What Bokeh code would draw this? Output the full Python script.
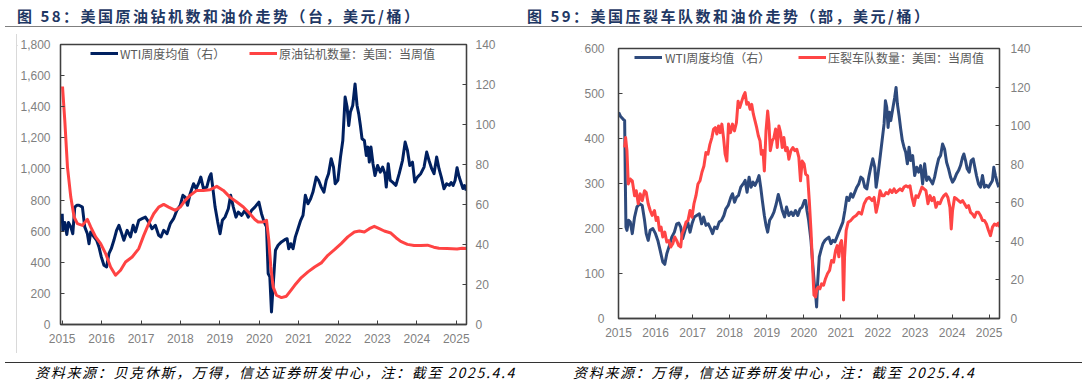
from bokeh.plotting import figure
from bokeh.models import (Range1d, LinearAxis, FixedTicker, NumeralTickFormatter,
                          Legend, LegendItem, Div, Spacer)
from bokeh.layouts import row, column
from bokeh.embed import file_html
from bokeh.resources import INLINE

# ---------------- data ----------------
years = [2015, 2016, 2017, 2018, 2019, 2020, 2021, 2022, 2023, 2024, 2025]
rig_ticks = [0, 200, 400, 600, 800, 1000, 1200, 1400, 1600, 1800]
frac_ticks = [0, 100, 200, 300, 400, 500, 600]
wti_ticks = [0, 20, 40, 60, 80, 100, 120, 140]

# Chart 58: WTI weekly average (right axis)
wti58_x = [2015.000, 2015.016, 2015.066, 2015.117, 2015.159, 2015.218, 2015.269, 2015.319, 2015.370, 2015.428,
           2015.513, 2015.572, 2015.639, 2015.681, 2015.723, 2015.807, 2015.874, 2015.933, 2015.992, 2016.060,
           2016.127, 2016.186, 2016.245, 2016.312, 2016.380, 2016.439, 2016.497, 2016.565, 2016.649, 2016.733,
           2016.800, 2016.859, 2016.943, 2017.027, 2017.111, 2017.195, 2017.280, 2017.364, 2017.448, 2017.507,
           2017.575, 2017.659, 2017.743, 2017.827, 2017.911, 2017.995, 2018.063, 2018.120, 2018.180, 2018.248,
           2018.333, 2018.400, 2018.459, 2018.518, 2018.585, 2018.669, 2018.736, 2018.778, 2018.820, 2018.880,
           2018.947, 2019.006, 2019.065, 2019.132, 2019.216, 2019.275, 2019.343, 2019.410, 2019.469, 2019.553,
           2019.637, 2019.721, 2019.805, 2019.890, 2019.991, 2020.058, 2020.126, 2020.185, 2020.227, 2020.269,
           2020.311, 2020.362, 2020.412, 2020.479, 2020.564, 2020.648, 2020.707, 2020.749, 2020.799, 2020.858,
           2020.917, 2020.984, 2021.052, 2021.111, 2021.170, 2021.237, 2021.304, 2021.363, 2021.447, 2021.506,
           2021.574, 2021.641, 2021.700, 2021.759, 2021.826, 2021.885, 2021.927, 2021.995, 2022.062, 2022.121,
           2022.180, 2022.230, 2022.272, 2022.314, 2022.373, 2022.432, 2022.483, 2022.525, 2022.567, 2022.609,
           2022.668, 2022.718, 2022.760, 2022.794, 2022.836, 2022.887, 2022.937, 2023.005, 2023.072, 2023.131,
           2023.190, 2023.224, 2023.274, 2023.324, 2023.383, 2023.468, 2023.552, 2023.636, 2023.703, 2023.762,
           2023.821, 2023.889, 2023.947, 2024.015, 2024.099, 2024.183, 2024.250, 2024.309, 2024.377, 2024.436,
           2024.503, 2024.562, 2024.621, 2024.688, 2024.755, 2024.823, 2024.870, 2024.920, 2024.970, 2025.020,
           2025.070, 2025.120, 2025.170, 2025.210, 2025.255]
wti58_y = [55.4, 47.0, 51.0, 45.0, 51.0, 48.8, 45.4, 58.7, 59.6, 59.6,
           58.7, 48.8, 45.4, 40.4, 46.3, 43.8, 42.1, 38.8, 33.8, 29.6,
           28.8, 35.4, 37.9, 42.1, 47.1, 49.6, 46.3, 42.1, 47.1, 43.8,
           49.6, 46.3, 52.1, 52.9, 53.7, 51.2, 47.9, 49.6, 44.6, 43.8,
           47.1, 45.4, 50.4, 52.9, 57.1, 59.6, 64.6, 63.7, 59.6, 65.4,
           70.4, 67.9, 70.4, 73.7, 67.9, 68.7, 73.7, 75.4, 68.7, 58.7,
           51.2, 45.4, 52.1, 53.7, 57.9, 64.6, 58.7, 53.7, 56.2, 54.6,
           57.1, 53.7, 57.1, 58.7, 61.2, 55.4, 51.2, 48.8, 25.5, 23.8,
           6.3, 22.1, 37.1, 39.6, 41.3, 42.4, 42.9, 37.9, 40.4, 37.9,
           43.8, 47.9, 52.1, 54.6, 64.6, 60.4, 62.9, 66.2, 73.7, 72.1,
           68.7, 66.2, 72.1, 75.4, 82.9, 78.7, 70.4, 72.1, 83.7, 92.0,
           113.7, 108.7, 99.5, 106.2, 109.5, 120.3, 109.5, 105.3, 99.5, 92.9,
           92.0, 84.5, 88.7, 81.2, 88.7, 80.4, 74.5, 79.5, 76.2, 78.7,
           75.4, 68.7, 80.4, 72.1, 71.2, 69.6, 75.4, 82.0, 91.2, 87.0,
           79.5, 81.2, 71.2, 73.7, 75.4, 78.7, 86.2, 82.0, 77.9, 75.4,
           83.7, 77.9, 73.7, 67.9, 70.4, 69.6, 71.0, 69.5, 72.0, 78.4,
           74.0, 71.0, 68.0, 69.5, 67.0]

# Chart 58: US crude oil rig count (left axis)
rig58_x = [2015.008, 2015.066, 2015.134, 2015.218, 2015.302, 2015.386, 2015.513, 2015.639, 2015.723, 2015.849,
           2015.976, 2016.102, 2016.228, 2016.354, 2016.481, 2016.607, 2016.775, 2016.944, 2017.070, 2017.196,
           2017.322, 2017.449, 2017.575, 2017.701, 2017.870, 2017.996, 2018.122, 2018.248, 2018.416, 2018.585,
           2018.753, 2018.922, 2019.090, 2019.256, 2019.430, 2019.597, 2019.764, 2019.890, 2019.974, 2020.100,
           2020.185, 2020.244, 2020.294, 2020.353, 2020.437, 2020.564, 2020.690, 2020.774, 2020.900, 2021.069,
           2021.237, 2021.405, 2021.574, 2021.742, 2021.910, 2022.079, 2022.247, 2022.415, 2022.542, 2022.668,
           2022.794, 2022.920, 2023.047, 2023.173, 2023.341, 2023.470, 2023.590, 2023.760, 2023.930, 2024.100,
           2024.270, 2024.430, 2024.560, 2024.770, 2025.020, 2025.150, 2025.255]
rig58_y = [1530, 1311, 1012, 819, 691, 648, 637, 676, 627, 563,
           520, 456, 370, 317, 349, 402, 434, 488, 573, 648,
           712, 755, 772, 755, 734, 755, 798, 830, 862, 862,
           866, 888, 862, 819, 787, 755, 712, 675, 659, 659,
           670, 541, 370, 242, 188, 173, 182, 210, 252, 302,
           338, 370, 396, 445, 481, 520, 563, 595, 601, 595,
           616, 631, 616, 601, 588, 558, 534, 515, 508, 508,
           510, 497, 490, 488, 485, 490, 488]

# Chart 59: WTI weekly average (right axis)
wti59_x = [2015.004, 2015.058, 2015.121, 2015.166, 2015.184, 2015.201, 2015.228, 2015.273, 2015.318, 2015.372,
           2015.434, 2015.497, 2015.568, 2015.640, 2015.703, 2015.748, 2015.801, 2015.855, 2015.927, 2015.998,
           2016.061, 2016.124, 2016.195, 2016.249, 2016.303, 2016.374, 2016.437, 2016.508, 2016.571, 2016.625,
           2016.679, 2016.732, 2016.795, 2016.867, 2016.930, 2016.983, 2017.046, 2017.109, 2017.181, 2017.243,
           2017.297, 2017.360, 2017.423, 2017.485, 2017.539, 2017.593, 2017.655, 2017.718, 2017.781, 2017.844,
           2017.897, 2017.960, 2018.032, 2018.077, 2018.131, 2018.184, 2018.238, 2018.300, 2018.363, 2018.417,
           2018.469, 2018.523, 2018.577, 2018.631, 2018.684, 2018.747, 2018.792, 2018.837, 2018.881, 2018.935,
           2018.980, 2019.025, 2019.078, 2019.132, 2019.194, 2019.257, 2019.311, 2019.355, 2019.418, 2019.481,
           2019.534, 2019.597, 2019.660, 2019.713, 2019.776, 2019.839, 2019.901, 2019.955, 2020.018, 2020.049,
           2020.085, 2020.130, 2020.193, 2020.247, 2020.283, 2020.318, 2020.345, 2020.372, 2020.417, 2020.462,
           2020.516, 2020.570, 2020.623, 2020.677, 2020.731, 2020.785, 2020.839, 2020.892, 2020.946, 2021.000,
           2021.054, 2021.108, 2021.161, 2021.215, 2021.269, 2021.323, 2021.377, 2021.430, 2021.484, 2021.538,
           2021.592, 2021.646, 2021.700, 2021.753, 2021.807, 2021.861, 2021.915, 2021.951, 2022.004, 2022.058,
           2022.112, 2022.166, 2022.202, 2022.238, 2022.274, 2022.309, 2022.345, 2022.399, 2022.453, 2022.489,
           2022.525, 2022.570, 2022.614, 2022.659, 2022.704, 2022.749, 2022.794, 2022.839, 2022.883, 2022.937,
           2022.991, 2023.045, 2023.099, 2023.152, 2023.206, 2023.260, 2023.314, 2023.368, 2023.422, 2023.475,
           2023.529, 2023.583, 2023.637, 2023.691, 2023.744, 2023.798, 2023.852, 2023.906, 2023.960, 2024.013,
           2024.067, 2024.121, 2024.175, 2024.229, 2024.283, 2024.318, 2024.363, 2024.408, 2024.462, 2024.516,
           2024.570, 2024.605, 2024.659, 2024.713, 2024.767, 2024.821, 2024.874, 2024.928, 2024.982, 2025.036,
           2025.090, 2025.126, 2025.170, 2025.215, 2025.260]
wti59_y = [106.9, 104.7, 103.4, 102.6, 71.6, 47.4, 45.7, 50.9, 50.0, 44.0,
           52.6, 57.8, 59.5, 58.6, 50.9, 44.0, 40.5, 45.7, 46.6, 44.0,
           40.5, 35.3, 29.3, 28.1, 33.6, 37.9, 42.2, 44.8, 49.1, 49.5,
           47.4, 41.4, 45.7, 50.0, 44.8, 49.1, 52.6, 53.4, 54.3, 49.1,
           52.6, 48.3, 49.1, 46.6, 44.0, 47.4, 46.6, 50.0, 50.9, 53.4,
           56.9, 58.6, 62.9, 64.7, 60.3, 62.9, 63.8, 68.1, 69.8, 71.6,
           65.5, 73.3, 68.1, 70.7, 69.0, 71.6, 74.1, 68.1, 61.2, 53.4,
           48.3, 44.8, 50.9, 52.6, 55.2, 59.5, 64.3, 61.2, 56.0, 52.6,
           57.8, 53.4, 55.2, 53.4, 56.0, 53.4, 56.9, 57.8, 61.2, 61.2,
           56.0, 50.9, 40.5, 26.7, 18.1, 12.9, 6.0, 18.1, 31.9, 35.3,
           38.8, 40.5, 41.4, 42.2, 38.8, 40.5, 39.7, 42.2, 44.8, 47.4,
           50.0, 56.0, 62.9, 61.2, 64.7, 62.9, 65.5, 68.1, 69.8, 73.3,
           72.4, 68.1, 67.2, 73.3, 78.4, 82.8, 78.4, 68.1, 75.0, 83.6,
           92.2, 100.9, 112.9, 109.5, 99.1, 106.9, 102.6, 108.6, 114.7, 119.8,
           111.2, 105.2, 98.3, 92.2, 88.8, 86.2, 80.2, 88.8, 81.9, 84.5,
           74.1, 78.4, 75.9, 79.3, 69.8, 80.2, 71.6, 73.3, 71.6, 69.8,
           73.3, 78.4, 82.8, 84.5, 90.5, 87.9, 81.0, 77.6, 73.3, 70.7,
           72.4, 75.0, 76.7, 79.3, 83.6, 85.3, 81.9, 77.6, 75.9, 81.9,
           82.8, 79.3, 74.1, 69.8, 68.1, 74.1, 68.1, 69.0, 68.1, 69.8,
           71.6, 78.4, 74.1, 70.7, 68.1]

# Chart 59: US frac fleet count (left axis)
frac59_x = [2015.166, 2015.192, 2015.228, 2015.264, 2015.318, 2015.372, 2015.434, 2015.479, 2015.533, 2015.586,
            2015.640, 2015.703, 2015.748, 2015.801, 2015.855, 2015.909, 2015.971, 2016.016, 2016.061, 2016.106,
            2016.150, 2016.195, 2016.249, 2016.303, 2016.356, 2016.410, 2016.464, 2016.517, 2016.571, 2016.625,
            2016.679, 2016.714, 2016.768, 2016.822, 2016.876, 2016.929, 2016.983, 2017.036, 2017.090, 2017.144,
            2017.198, 2017.251, 2017.305, 2017.359, 2017.413, 2017.466, 2017.520, 2017.565, 2017.610, 2017.655,
            2017.699, 2017.744, 2017.789, 2017.834, 2017.878, 2017.923, 2017.968, 2018.021, 2018.075, 2018.128,
            2018.182, 2018.227, 2018.272, 2018.326, 2018.370, 2018.415, 2018.460, 2018.505, 2018.550, 2018.594,
            2018.639, 2018.684, 2018.729, 2018.773, 2018.818, 2018.854, 2018.899, 2018.935, 2018.980, 2019.025,
            2019.060, 2019.096, 2019.149, 2019.194, 2019.239, 2019.284, 2019.328, 2019.373, 2019.418, 2019.463,
            2019.508, 2019.552, 2019.597, 2019.651, 2019.705, 2019.758, 2019.812, 2019.866, 2019.911, 2019.955,
            2020.009, 2020.049, 2020.103, 2020.148, 2020.193, 2020.238, 2020.274, 2020.318, 2020.354, 2020.390,
            2020.435, 2020.480, 2020.534, 2020.587, 2020.641, 2020.695, 2020.749, 2020.803, 2020.857, 2020.901,
            2020.946, 2020.982, 2021.018, 2021.045, 2021.072, 2021.099, 2021.143, 2021.197, 2021.269, 2021.341,
            2021.413, 2021.484, 2021.556, 2021.628, 2021.700, 2021.771, 2021.843, 2021.897, 2021.951, 2022.004,
            2022.058, 2022.112, 2022.166, 2022.220, 2022.274, 2022.327, 2022.381, 2022.435, 2022.489, 2022.543,
            2022.596, 2022.650, 2022.704, 2022.758, 2022.812, 2022.865, 2022.919, 2022.973, 2023.027, 2023.081,
            2023.135, 2023.188, 2023.242, 2023.296, 2023.350, 2023.404, 2023.457, 2023.511, 2023.565, 2023.619,
            2023.673, 2023.726, 2023.780, 2023.834, 2023.888, 2023.942, 2023.978, 2024.013, 2024.067, 2024.121,
            2024.175, 2024.229, 2024.283, 2024.336, 2024.390, 2024.444, 2024.498, 2024.552, 2024.605, 2024.659,
            2024.713, 2024.767, 2024.821, 2024.874, 2024.928, 2024.982, 2025.036, 2025.090, 2025.143, 2025.197,
            2025.251, 2025.278]
frac59_y = [380, 402, 373, 299, 310, 306, 273, 284, 255, 277,
            262, 284, 280, 255, 240, 229, 240, 218, 225, 196,
            203, 181, 192, 170, 173, 159, 166, 181, 173, 162,
            159, 188, 199, 214, 218, 240, 225, 255, 273, 299,
            306, 325, 339, 369, 365, 387, 402, 421, 424, 410,
            428, 413, 432, 402, 365, 350, 432, 413, 432, 417,
            435, 483, 469, 483, 494, 502, 476, 480, 465, 476,
            454, 439, 424, 406, 395, 365, 373, 328, 417, 461,
            432, 373, 395, 402, 421, 380, 428, 413, 380, 402,
            373, 380, 354, 373, 380, 373, 376, 358, 306, 350,
            343, 321, 317, 262, 196, 114, 52, 48, 66, 70,
            66, 77, 74, 89, 100, 107, 129, 125, 151, 162,
            137, 166, 173, 144, 41, 137, 196, 214, 218, 225,
            229, 236, 232, 255, 266, 269, 262, 269, 236, 255,
            284, 273, 273, 280, 277, 286, 280, 288, 280, 284,
            288, 284, 292, 295, 292, 295, 269, 251, 273, 269,
            280, 292, 288, 284, 255, 273, 262, 269, 247, 258,
            255, 266, 273, 277, 269, 247, 199, 240, 269, 266,
            262, 258, 262, 255, 247, 251, 236, 232, 225, 236,
            236, 229, 218, 218, 210, 196, 184, 203, 210, 207,
            212, 203]

# ---------------- styling helpers ----------------
CJK = "Noto Sans CJK SC"
NUM = "Liberation Sans"
AXIS_COLOR = "#404040"
LABEL_COLOR = "#7f7f7f"


def style_axis(ax, standoff, ticks):
    ax.ticker = FixedTicker(ticks=ticks)
    ax.major_tick_in = 4
    ax.major_tick_out = 0
    ax.minor_tick_in = 0
    ax.minor_tick_out = 0
    ax.axis_line_color = AXIS_COLOR
    ax.axis_line_width = 1.3
    ax.major_tick_line_color = AXIS_COLOR
    ax.major_tick_line_width = 1
    ax.major_label_text_font = NUM
    ax.major_label_text_font_size = "12px"
    ax.major_label_text_color = LABEL_COLOR
    ax.major_label_standoff = standoff


def add_legend(p, r, label, vx, vy, standoff):
    lg = Legend(items=[LegendItem(label=label, renderers=[r])], location=(vx, vy),
                orientation="horizontal", padding=0, margin=0, spacing=0,
                glyph_width=28, glyph_height=20, label_height=20, label_standoff=standoff,
                border_line_alpha=0, background_fill_alpha=0,
                label_text_font=CJK, label_text_font_size="12px", label_text_color="#595959")
    p.add_layout(lg)


def make_fig(width, height, xr, yr, yr2, bl, br, bt, bb):
    p = figure(width=width, height=height, x_range=xr, y_range=yr,
               output_backend="svg", toolbar_location=None, margin=0,
               min_border_left=bl, min_border_right=br, min_border_top=bt, min_border_bottom=bb)
    p.extra_y_ranges = {"wti": yr2}
    p.xgrid.visible = False
    p.ygrid.visible = False
    p.outline_line_color = AXIS_COLOR
    p.outline_line_width = 1.3
    p.background_fill_color = "white"
    p.border_fill_color = "white"
    return p


# ---------------- chart 58 ----------------
p1 = make_fig(486, 318, Range1d(2014.957, 2025.26), Range1d(0, 1800), Range1d(0, 140), 41, 37, 9, 29)
style_axis(p1.xaxis[0], 9, years)
style_axis(p1.yaxis[0], 10, rig_ticks)
p1.yaxis[0].formatter = NumeralTickFormatter(format="0,0")
ax1r = LinearAxis(y_range_name="wti")
style_axis(ax1r, 9, wti_ticks)
p1.add_layout(ax1r, "right")

r1w = p1.line(wti58_x, wti58_y, y_range_name="wti", line_color="#002060", line_width=3, line_join="round")
r1r = p1.line(rig58_x, rig58_y, line_color="#FF4343", line_width=3, line_join="round")
add_legend(p1, r1w, "WTI周度均值（右）", 30, 261, 2)
add_legend(p1, r1r, "原油钻机数量：美国：当周值", 189, 261, 2)

# ---------------- chart 59 ----------------
p2 = make_fig(455, 307, Range1d(2015.0, 2025.28), Range1d(0, 600), Range1d(0, 140), 36, 37, 7, 30)
style_axis(p2.xaxis[0], 9, years)
style_axis(p2.yaxis[0], 14, frac_ticks)
ax2r = LinearAxis(y_range_name="wti")
style_axis(ax2r, 11, wti_ticks)
p2.add_layout(ax2r, "right")

r2w = p2.line(wti59_x, wti59_y, y_range_name="wti", line_color="#2E4A7C", line_width=3, line_join="round")
r2r = p2.line(frac59_x, frac59_y, line_color="#FF4545", line_width=3, line_join="round")
add_legend(p2, r2w, "WTI周度均值（右）", 16, 251, 3)
add_legend(p2, r2r, "压裂车队数量：美国：当周值", 180, 251, 2)

# ---------------- titles / sources / decorative lines ----------------
title_css = ("position:absolute;top:0px;line-height:15px;white-space:nowrap;"
             "font-family:'Noto Sans CJK SC';font-weight:bold;font-size:15px;"
             "color:#1F3864;letter-spacing:2.5px;")
title_div = Div(width=1084, height=20, margin=0, text=(
    '<div style="position:relative;width:1084px;height:20px;">'
    '<div style="position:absolute;left:5px;top:18px;width:1077px;height:0px;border-top:1.5px solid #7f7f7f;"></div>'
    f'<span style="{title_css}left:17px;">图 58：美国原油钻机数和油价走势（台，美元/桶）</span>'
    f'<span style="{title_css}left:527px;">图 59：美国压裂车队数和油价走势（部，美元/桶）</span>'
    '</div>'))

src_css = ("position:absolute;top:13px;line-height:13px;white-space:nowrap;"
           "font-family:'Noto Sans CJK SC';font-style:italic;font-size:14px;"
           "color:#000000;letter-spacing:1.7px;")
src_div = Div(width=1084, height=26, margin=0, text=(
    '<div style="position:relative;width:1084px;height:26px;">'
    '<div style="position:absolute;left:5px;top:8.5px;width:1077px;height:0px;border-top:1.5px solid #333333;"></div>'
    f'<span style="{src_css}left:35px;">资料来源：贝克休斯，万得，信达证券研发中心，注：截至 2025.4.4</span>'
    f'<span style="{src_css}left:573px;">资料来源：万得，信达证券研发中心，注：截至 2025.4.4</span>'
    '</div>'))


def gray_line(w, h):
    return Div(width=w, height=h, margin=0,
               text=f'<div style="width:{w}px;height:{h}px;background:#d9d9d9;"></div>')


def gap(**kw):
    return Spacer(margin=0, **kw)


left_block = column(gap(height=6),
                    row(gray_line(1, 319), column(gray_line(486, 1), p1, spacing=0, margin=0),
                        spacing=0, margin=0),
                    spacing=0, margin=0)
right_block = column(gap(height=12), gray_line(455, 1), p2, spacing=0, margin=0)
middle = row(gap(width=16), left_block, gap(width=78), right_block, spacing=0, margin=0)
root = column(gap(height=8), title_div, middle, src_div, spacing=0, margin=0)

open("out.html", "w").write(file_html(root, INLINE))
